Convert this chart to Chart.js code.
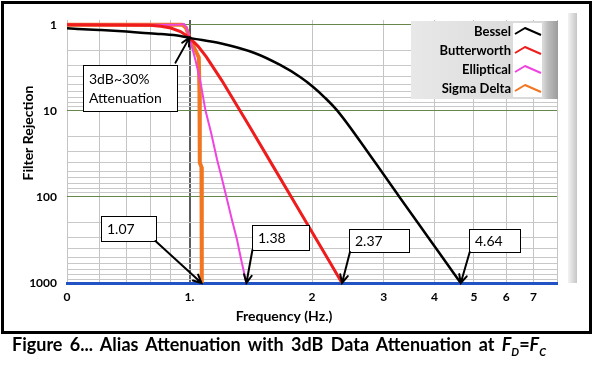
<!DOCTYPE html>
<html>
<head>
<meta charset="utf-8">
<script src="https://cdn.jsdelivr.net/npm/chart.js@4.4.1/dist/chart.umd.min.js"></script>
<style>
  html, body { margin: 0; padding: 0; background: #fff; }
  body { width: 594px; height: 369px; position: relative; overflow: hidden; font-family: Lato, 'Liberation Sans', sans-serif; }
  #frame { position: absolute; left: 1px; top: 1px; width: 585px; height: 327px; border: 3px solid #000; }
  #c { position: absolute; left: 0; top: 0; }
  #caption { position: absolute; left: 12px; top: 333px; font-weight: bold; font-size: 18px; word-spacing: 3px; white-space: nowrap; color: #000; }
  #caption sub { font-size: 11px; word-spacing: 0; }
</style>
</head>
<body>
<div id="frame"></div>
<canvas id="c" width="594" height="369"></canvas>
<div id="caption">Figure 6... Alias Attenuation with 3dB Data Attenuation at <i>F<sub>D</sub></i>=<i>F<sub>C</sub></i></div>
<script>
// frequency grid / tick labels (log axis, 0.5 .. 8)
const xGridValues = [0.5, 0.6, 0.7, 0.8, 0.9, 1, 2, 3, 4, 5, 6, 7, 8];
const xTickText = ['0', '', '', '', '', '1.', '2', '3', '4', '5', '6', '7', ''];

// rejection grid / tick labels (log axis, reversed)
const yGridValues = [1, 2, 3, 4, 5, 6, 7, 8, 9, 10, 20, 30, 40, 50, 60, 70, 80, 90,
  100, 200, 300, 400, 500, 600, 700, 800, 900, 1000];
const yTickText = { 1: '1', 10: '10', 100: '100', 1000: '1000' };

const seriesNames = ['Bessel', 'Butterworth', 'Elliptical', 'Sigma Delta'];
const seriesColors = ['#000000', '#ee1c1c', '#f044e0', '#f27520'];

const besselFreq = [0.5, 0.6, 0.7, 0.76, 0.85, 0.95, 1.0, 1.19, 1.45, 1.67, 1.87, 2.01, 2.15, 2.31, 2.78, 3.29, 3.68, 4.12, 4.64];
const besselGain = [1.1, 1.15, 1.2, 1.235, 1.28, 1.35, 1.42, 1.64, 2.14, 2.93, 4.04, 5.24, 7.0, 10.0, 33, 102, 215, 454, 1000];

const butterFreq = [0.5, 0.8, 0.85, 0.9, 0.95, 1.0, 1.05, 1.1, 1.2, 1.4, 1.6, 1.8, 2.0, 2.2, 2.37];
const butterGain = [1.0, 1.01, 1.04, 1.09, 1.2, 1.41, 1.78, 2.36, 4.42, 14.8, 43, 110, 256, 549, 1000];

const ellipFreq = [0.5, 0.9, 0.95, 0.97, 0.985, 1.0, 1.034, 1.064, 1.094, 1.13, 1.169, 1.2, 1.237, 1.27, 1.309, 1.34, 1.38];
const ellipGain = [1.0, 1.0, 0.99, 0.98, 1.1, 1.41, 2.56, 4.6, 9.8, 18, 37, 60, 108, 180, 316, 540, 1000];

const sigmaFreq = [0.5, 0.96, 0.98, 1.0, 1.02, 1.04, 1.054, 1.058, 1.06, 1.07, 1.072];
const sigmaGain = [1.0, 1.0, 1.08, 1.41, 1.75, 2.1, 2.4, 6, 40, 45, 1000];

// callouts: text and the point each arrow points at
const calloutText = ['3dB~30%\nAttenuation', '1.07', '1.38', '2.37', '4.64'];
const calloutFreq = [1, 1.07, 1.38, 2.37, 4.64];
const calloutGain = [1.41, 1000, 1000, 1000, 1000];
// box + arrow tail offsets from the arrow tip, in px
const calloutBoxes = [
  { dx: -107, dy: 27, w: 94, h: 46, tx: -14, ty: 25 },
  { dx: -100, dy: -67, w: 55, h: 25, tx: -46, ty: -42 },
  { dx: 6, dy: -58, w: 57, h: 25, tx: 6, ty: -33 },
  { dx: 7, dy: -54, w: 60, h: 23, tx: 8, ty: -31 },
  { dx: 8, dy: -54, w: 51, h: 23, tx: 9, ty: -31 },
];

const toPoints = (xs, ys) => xs.map((x, i) => ({ x, y: ys[i] }));

Chart.defaults.font.family = 'Lato, "Liberation Sans", sans-serif';
Chart.defaults.color = '#000';

const backdrop = {
  id: 'backdrop',
  beforeDraw(chart) {
    const { ctx, chartArea: a } = chart;
    ctx.save();
    ctx.fillStyle = '#fff';
    ctx.fillRect(a.left, a.top, a.right - a.left, a.bottom - a.top);
    // grey strip right of the plot
    const g = ctx.createLinearGradient(a.right + 11, 0, a.right + 20, 0);
    g.addColorStop(0, '#f3f3f3');
    g.addColorStop(1, '#c6c6c6');
    ctx.fillStyle = g;
    ctx.fillRect(a.right + 11, a.top - 7, 9, a.bottom - a.top + 7);
    ctx.restore();
  },
};

function arrow(ctx, sx, sy, ex, ey) {
  const ang = Math.atan2(ey - sy, ex - sx);
  ctx.beginPath();
  ctx.moveTo(sx, sy);
  ctx.lineTo(ex, ey);
  ctx.moveTo(ex - 9 * Math.cos(ang - 0.45), ey - 9 * Math.sin(ang - 0.45));
  ctx.lineTo(ex, ey);
  ctx.lineTo(ex - 9 * Math.cos(ang + 0.45), ey - 9 * Math.sin(ang + 0.45));
  ctx.stroke();
}

const callouts = {
  id: 'callouts',
  afterDatasetsDraw(chart) {
    const { ctx, scales: { x, y } } = chart;
    ctx.save();
    calloutText.forEach((text, i) => {
      const px = x.getPixelForValue(calloutFreq[i]);
      const py = y.getPixelForValue(calloutGain[i]);
      const b = calloutBoxes[i];
      const bx = Math.round(px + b.dx), by = Math.round(py + b.dy);
      ctx.fillStyle = '#fff';
      ctx.fillRect(bx, by, b.w, b.h);
      ctx.strokeStyle = '#000';
      ctx.lineWidth = 1;
      ctx.strokeRect(bx + 0.5, by + 0.5, b.w, b.h);
      const lines = text.split('\n');
      ctx.fillStyle = '#000';
      ctx.font = '14px Lato, "Liberation Sans", sans-serif';
      ctx.textAlign = 'left';
      ctx.textBaseline = 'middle';
      lines.forEach((line, j) => {
        ctx.fillText(line, bx + 6, by + b.h / 2 + 1 + (j - (lines.length - 1) / 2) * 19);
      });
      ctx.lineWidth = 2;
      ctx.lineCap = 'round';
      arrow(ctx, px + b.tx, py + b.ty, px, py);
    });
    ctx.restore();
  },
};

const legendBox = {
  id: 'legendBox',
  afterDraw(chart) {
    const { ctx, chartArea: a } = chart;
    const left = a.right - 146, top = a.top + 1, w = 147, h = 78;
    ctx.save();
    const g = ctx.createLinearGradient(left, 0, left + w, 0);
    g.addColorStop(0, '#e8e8e8');
    g.addColorStop(0.9, '#d8d8d8');
    g.addColorStop(0.93, '#bdbdbd');
    g.addColorStop(1, '#9c9c9c');
    ctx.fillStyle = g;
    ctx.fillRect(left, top, w, h);
    ctx.fillStyle = '#fff';
    ctx.fillRect(left + 102, top + 2, 29, h - 4);
    ctx.font = 'bold 13px Lato, "Liberation Sans", sans-serif';
    ctx.textAlign = 'right';
    ctx.textBaseline = 'middle';
    chart.data.datasets.forEach((ds, i) => {
      const cy = top + 11 + i * 19;
      ctx.fillStyle = '#000';
      ctx.fillText(ds.label, left + 100, cy);
      ctx.strokeStyle = ds.borderColor;
      ctx.lineWidth = 2;
      ctx.lineJoin = 'round';
      ctx.beginPath();
      ctx.moveTo(left + 104, cy + 2);
      ctx.lineTo(left + 114, cy - 4);
      ctx.lineTo(left + 130, cy + 3);
      ctx.stroke();
    });
    ctx.restore();
  },
};

const axisTitles = {
  id: 'axisTitles',
  afterDraw(chart) {
    const { ctx } = chart;
    ctx.save();
    ctx.fillStyle = '#000';
    ctx.font = 'bold 14px Lato, "Liberation Sans", sans-serif';
    ctx.textAlign = 'center';
    ctx.textBaseline = 'middle';
    ctx.fillText('Frequency (Hz.)', 284, 316);
    ctx.translate(28, 133);
    ctx.rotate(-Math.PI / 2);
    ctx.fillText('Filter Rejection', 0, 0);
    ctx.restore();
  },
};

const series = [
  [besselFreq, besselGain, 2.5],
  [butterFreq, butterGain, 3],
  [ellipFreq, ellipGain, 2],
  [sigmaFreq, sigmaGain, 4],
];

new Chart(document.getElementById('c'), {
  type: 'line',
  data: {
    datasets: series.map(([xs, ys, bw], i) => ({
      label: seriesNames[i],
      data: toPoints(xs, ys),
      borderColor: seriesColors[i],
      backgroundColor: seriesColors[i],
      borderWidth: bw,
      pointRadius: 0,
      tension: 0,
      cubicInterpolationMode: i === 0 ? 'monotone' : 'default',
    })),
  },
  options: {
    responsive: false,
    animation: false,
    events: [],
    layout: { padding: { left: 0, right: 37, top: 20, bottom: 56 } },
    plugins: { legend: { display: false }, tooltip: { enabled: false } },
    scales: {
      x: {
        type: 'logarithmic',
        min: 0.5,
        max: 8,
        afterBuildTicks: (s) => { s.ticks = xGridValues.map((v) => ({ value: v })); },
        afterFit: (s) => { s.height = 30; },
        ticks: {
          autoSkip: false,
          maxRotation: 0,
          padding: 7,
          font: { size: 12, weight: 'bold' },
          callback: (v) => xTickText[xGridValues.indexOf(v)],
        },
        grid: {
          drawTicks: false,
          color: (c) => (c.tick && c.tick.value === 1 ? '#5c5c5c' : '#c4c4c4'),
          lineWidth: (c) => (c.tick && c.tick.value === 1 ? 2 : 1),
        },
        border: { display: true, color: '#2153c4', width: 3 },
      },
      y: {
        type: 'logarithmic',
        reverse: true,
        min: 0.88,
        max: 1000,
        afterBuildTicks: (s) => { s.ticks = yGridValues.map((v) => ({ value: v })); },
        afterFit: (s) => { s.width = 67; },
        ticks: {
          autoSkip: false,
          padding: 10,
          font: { size: 12, weight: 'bold' },
          callback: (v) => yTickText[v] || '',
        },
        grid: {
          drawTicks: false,
          color: (c) => (c.tick && yTickText[c.tick.value] ? '#66864a' : '#c8c8c8'),
        },
        border: { display: false },
      },
    },
  },
  plugins: [backdrop, callouts, legendBox, axisTitles],
});
</script>
</body>
</html>
